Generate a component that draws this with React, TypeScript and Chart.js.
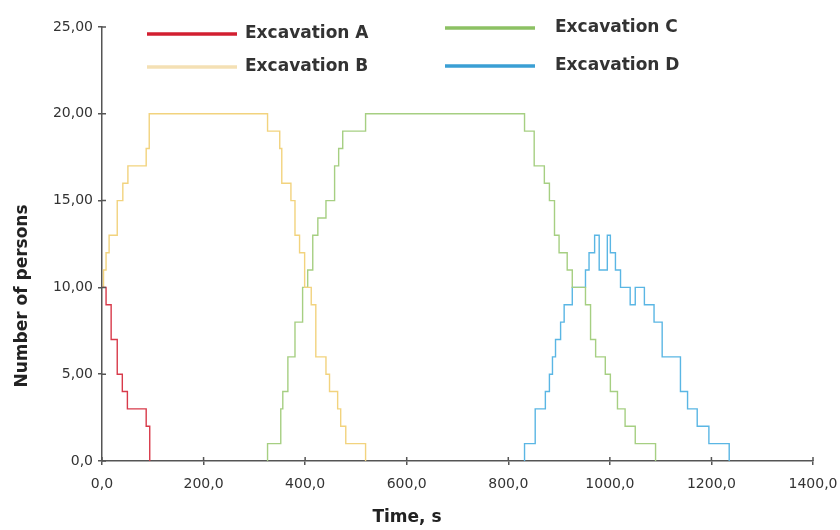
import React, { useEffect, useRef } from 'react';
import { Chart, registerables } from 'chart.js';

Chart.register(...registerables);

const seriesNames = ['Excavation A', 'Excavation B', 'Excavation C', 'Excavation D'];
const seriesColors = ['#d83a4a', '#f2d37e', '#a6cf82', '#5ab6e4'];
const legendColors = ['#d21f30', '#f4e0b4', '#8cc163', '#3a9fd4'];

const timeA = [0, 8, 18, 30, 40, 50, 87, 94];
const valuesA = [10, 9, 7, 5, 4, 3, 2, 0];

const timeB = [0, 3, 8, 14, 30, 41, 51, 87, 93, 326, 350, 354, 372, 380, 389, 399, 412, 421, 441, 448, 464, 470, 480, 519];
const valuesB = [10, 11, 12, 13, 15, 16, 17, 18, 20, 19, 18, 16, 15, 13, 12, 10, 9, 6, 5, 4, 3, 2, 1, 0];

const timeC = [325, 326, 352, 356, 366, 380, 395, 405, 415, 425, 441, 458, 466, 474, 519, 832, 851, 871, 881, 891, 900, 916, 926, 952, 962, 972, 991, 1001, 1015, 1030, 1050, 1090];
const valuesC = [0, 1, 3, 4, 6, 8, 10, 11, 13, 14, 15, 17, 18, 19, 20, 19, 17, 16, 15, 13, 12, 11, 10, 9, 7, 6, 5, 4, 3, 2, 1, 0];

const timeD = [831, 832, 853, 873, 881, 887, 893, 903, 910, 926, 952, 959, 970, 979, 995, 1001, 1011, 1021, 1040, 1050, 1068, 1087, 1103, 1139, 1153, 1172, 1195, 1235];
const valuesD = [0, 1, 3, 4, 5, 6, 7, 8, 9, 10, 11, 12, 13, 11, 13, 12, 11, 10, 9, 10, 9, 8, 6, 4, 3, 2, 1, 0];

const xTitle = 'Time, s';
const yTitle = 'Number of persons';

const allTimes = [timeA, timeB, timeC, timeD];
const allValues = [valuesA, valuesB, valuesC, valuesD];

const overlay = {
  id: 'overlay',
  afterDatasetsDraw(chart: any) {
    const { ctx, chartArea } = chart;
    const xs = chart.scales.x;
    const ys = chart.scales.y;
    ctx.save();
    // inner half of crossing tick marks
    ctx.strokeStyle = '#555';
    ctx.lineWidth = 1.5;
    ctx.beginPath();
    xs.ticks.forEach((t: any) => {
      const px = xs.getPixelForValue(t.value);
      ctx.moveTo(px, chartArea.bottom - 4);
      ctx.lineTo(px, chartArea.bottom);
    });
    ys.ticks.forEach((t: any) => {
      const py = ys.getPixelForValue(t.value);
      ctx.moveTo(chartArea.left, py);
      ctx.lineTo(chartArea.left + 4, py);
    });
    ctx.stroke();

    // legend (two columns)
    const cols = [chartArea.left + 45, chartArea.left + 343];
    const textOff = [98, 110];
    const rows = [[7, 40], [1, 39]];
    ctx.font = 'bold 17px "DejaVu Sans"';
    ctx.textBaseline = 'middle';
    ctx.textAlign = 'left';
    seriesNames.forEach((name, i) => {
      const c = Math.floor(i / 2);
      const r = i % 2;
      const y = chartArea.top + rows[c][r];
      ctx.strokeStyle = legendColors[i];
      ctx.lineWidth = 3.5;
      ctx.beginPath();
      ctx.moveTo(cols[c], y);
      ctx.lineTo(cols[c] + 90, y);
      ctx.stroke();
      ctx.fillStyle = '#333';
      ctx.fillText(name, cols[c] + textOff[c], y);
    });

    // axis titles
    ctx.fillStyle = '#222';
    ctx.font = 'bold 17px "DejaVu Sans"';
    ctx.textAlign = 'center';
    ctx.fillText(xTitle, chartArea.left + 305, chartArea.bottom + 57);
    ctx.save();
    ctx.translate(chartArea.left - 79, chartArea.bottom - 165);
    ctx.rotate(-Math.PI / 2);
    ctx.fillText(yTitle, 0, 0);
    ctx.restore();
    ctx.restore();
  },
};

export default function App() {
  const ref = useRef<HTMLCanvasElement>(null);
  useEffect(() => {
    document.body.style.margin = '0';
    if (!ref.current) return;
    const datasets = seriesNames.map((name, i) => ({
      label: name,
      data: allTimes[i].map((t, j) => ({ x: t, y: allValues[i][j] })),
      borderColor: seriesColors[i],
      backgroundColor: seriesColors[i],
      borderWidth: 1.4,
      pointRadius: 0,
      stepped: true,
      fill: false,
    }));
    const chart = new Chart(ref.current, {
      type: 'line',
      data: { datasets },
      options: {
        animation: false,
        responsive: true,
        maintainAspectRatio: false,
        layout: { padding: { top: 27, right: 27, left: 0, bottom: 0 } },
        plugins: { legend: { display: false }, tooltip: { enabled: false } },
        scales: {
          x: {
            type: 'linear',
            min: 0,
            max: 1400,
            ticks: {
              stepSize: 200,
              color: '#333',
              font: { family: '"DejaVu Sans"', size: 14 },
              padding: 11,
              maxRotation: 0,
              callback: (v: any) => Number(v).toFixed(1).replace('.', ','),
            },
            grid: { display: true, drawOnChartArea: false, drawTicks: true, tickLength: 4, color: '#555', lineWidth: 1.5 },
            border: { display: true, color: '#555', width: 1.5 },
            afterFit: (s: any) => { s.height = 69; s.paddingRight = 0; s.paddingLeft = 0; },
          },
          y: {
            min: 0,
            max: 25,
            ticks: {
              stepSize: 5,
              color: '#333',
              font: { family: '"DejaVu Sans"', size: 14 },
              padding: 5,
              callback: (v: any) => (Number(v) === 0 ? '0,0' : Number(v).toFixed(2).replace('.', ',')),
            },
            grid: { display: true, drawOnChartArea: false, drawTicks: true, tickLength: 4, color: '#555', lineWidth: 1.5 },
            border: { display: true, color: '#555', width: 1.5 },
            afterFit: (s: any) => { s.width = 102; s.paddingTop = 0; s.paddingBottom = 0; },
          },
        },
      },
      plugins: [overlay],
    });
    return () => chart.destroy();
  }, []);
  return (
    <div style={{ width: 840, height: 530, position: 'relative' }}>
      <canvas ref={ref} />
    </div>
  );
}
